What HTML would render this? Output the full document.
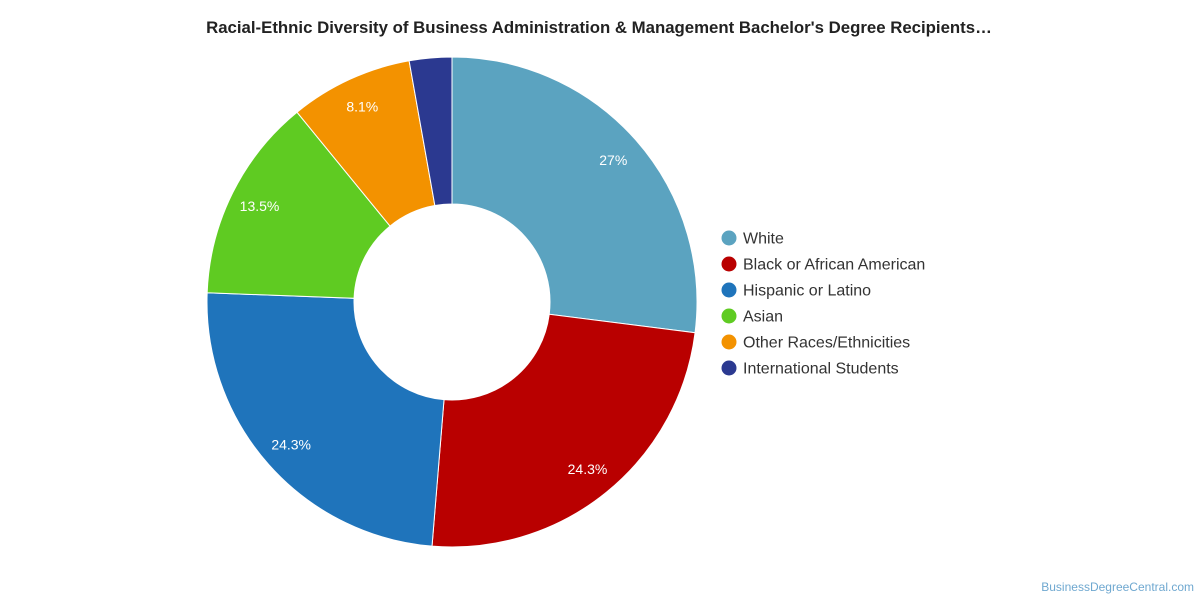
<!DOCTYPE html>
<html><head><meta charset="utf-8"><style>
body{margin:0;background:#fff;font-family:"Liberation Sans",Roboto,sans-serif;}
</style></head><body>
<svg width="1200" height="600" xmlns="http://www.w3.org/2000/svg">
<text x="599" y="33" text-anchor="middle" font-size="16.8" font-weight="bold" fill="#222">Racial-Ethnic Diversity of Business Administration &amp; Management Bachelor's Degree Recipients…</text>
<g id="pie"></g>
<g id="legend"></g>
<text x="1194" y="591" text-anchor="end" font-size="12" fill="#6fa8d0">BusinessDegreeCentral.com</text>
</svg>
<script>
const categories=["White","Black or African American","Hispanic or Latino","Asian","Other Races/Ethnicities","International Students"];
const values=[27,24.3,24.3,13.5,8.1,2.8];
const labels=["27%","24.3%","24.3%","13.5%","8.1%",""];
const colors=["#5ba3c0","#b90000","#1f74bb","#5fcb22","#f39200","#2b3990"];
const cx=452,cy=302,R=245,r0=98,LR=215;
const ns="http://www.w3.org/2000/svg";
const pie=document.getElementById('pie'),leg=document.getElementById('legend');
const total=values.reduce((a,b)=>a+b,0);
let a=0;
function pt(rad,ang){return [cx+rad*Math.sin(ang),cy-rad*Math.cos(ang)];}
values.forEach((v,i)=>{
 const a0=a,a1=a+v/total*2*Math.PI;a=a1;
 const large=(a1-a0)>Math.PI?1:0;
 const p1=pt(R,a0),p2=pt(R,a1),p3=pt(r0,a1),p4=pt(r0,a0);
 const p=document.createElementNS(ns,'path');
 p.setAttribute('d',`M${p1}A${R},${R} 0 ${large} 1 ${p2}L${p3}A${r0},${r0} 0 ${large} 0 ${p4}Z`);
 p.setAttribute('fill',colors[i]);p.setAttribute('stroke','#fff');p.setAttribute('stroke-width','1');
 
 
 pie.appendChild(p);
 if(labels[i]){
  const m=pt(LR,(a0+a1)/2);
  const t=document.createElementNS(ns,'text');
  t.setAttribute('x',m[0]);t.setAttribute('y',m[1]+5);t.setAttribute('text-anchor','middle');
  t.setAttribute('font-size','14');t.setAttribute('fill','#fff');t.textContent=labels[i];
  
  
  pie.appendChild(t);
 }
 const y=238+i*26;
 const g=document.createElementNS(ns,'g');
 
 
 const c=document.createElementNS(ns,'circle');
 c.setAttribute('cx',729);c.setAttribute('cy',y);c.setAttribute('r',7.5);c.setAttribute('fill',colors[i]);
 const t=document.createElementNS(ns,'text');
 t.setAttribute('x',743);t.setAttribute('y',y+5.5);t.setAttribute('font-size','16');t.setAttribute('fill','#333');
 t.textContent=categories[i];
 g.appendChild(c);g.appendChild(t);leg.appendChild(g);
});
</script>
</body></html>
